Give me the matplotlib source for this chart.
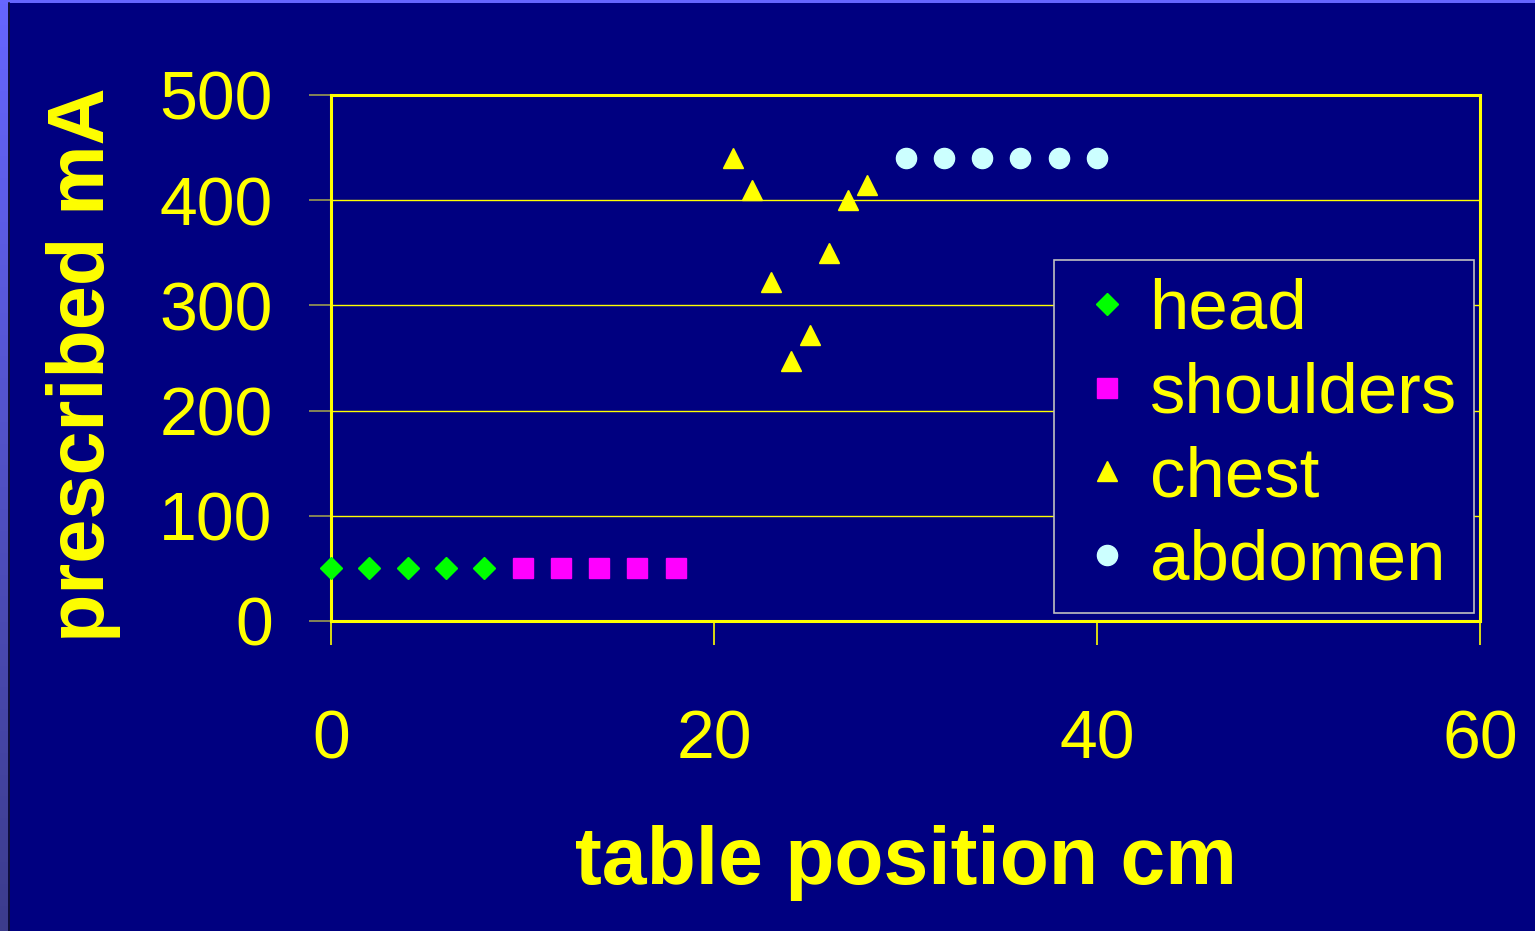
import numpy as np
import matplotlib
matplotlib.use('Agg')
import matplotlib.pyplot as plt

plt.rcParams['font.family'] = ['Liberation Sans', 'DejaVu Sans']

# data
head_x = [0, 2, 4, 6, 8]
head_y = [50, 50, 50, 50, 50]
shoulders_x = [10, 12, 14, 16, 18]
shoulders_y = [50, 50, 50, 50, 50]
chest_x = [21, 22, 23, 24, 25, 26, 27, 28]
chest_y = [440, 410, 322, 247, 272, 350, 400, 414]
abdomen_x = [30, 32, 34, 36, 38, 40]
abdomen_y = [440, 440, 440, 440, 440, 440]

navy = '#000080'
yel = '#ffff00'

fig = plt.figure(figsize=(15.35, 9.31), dpi=100)
fig.patch.set_facecolor(navy)

# slide edge strips
strip = fig.add_axes([0, 0, 8 / 1535, 1])
grad = np.linspace(0, 1, 256).reshape(-1, 1)
strip.imshow(grad, aspect='auto', cmap=matplotlib.colors.LinearSegmentedColormap.from_list(
    'e', ['#6666ff', '#3c3c8c']), extent=[0, 1, 0, 1])
strip.axis('off')
top = fig.add_axes([0, 1 - 3 / 931, 1, 3 / 931])
top.axis('off')
top.add_patch(plt.Rectangle((0, 0), 1, 1, color='#6666ff', transform=top.transAxes))
fig.add_artist(plt.Line2D([8.5 / 1535, 8.5 / 1535], [0, 1 - 3 / 931], color='#101030', lw=1.2))

ax = fig.add_axes([331 / 1535, (931 - 621) / 931, (1480 - 331) / 1535, (621 - 95) / 931])
ax.set_facecolor(navy)

ax.plot(head_x, head_y, 'D', color='#00ff00', ms=11, mec='#00ff00', label='head',
        clip_on=False, zorder=5)
ax.plot(shoulders_x, shoulders_y, 's', color='#ff00ff', ms=15, mec='#ff00ff', label='shoulders')
ax.plot(chest_x, chest_y, '^', color=yel, ms=15, mec=yel, label='chest')
ax.plot(abdomen_x, abdomen_y, 'o', color='#ccffff', ms=14.5, mec='#ccffff', label='abdomen')

ax.set_xlim(0, 60)
ax.set_ylim(0, 500)
ax.set_xticks([0, 20, 40, 60])
ax.set_yticks([0, 100, 200, 300, 400, 500])
ax.yaxis.grid(True, color=yel, lw=1)
ax.set_axisbelow(True)
for s in ax.spines.values():
    s.set_color(yel)
    s.set_linewidth(2.2)

ax.tick_params(axis='y', direction='out', length=16, width=1.2, color='#9a9a50',
               labelsize=49, labelcolor=yel, pad=26)
ax.tick_params(axis='x', direction='out', length=17, width=1.2, color=yel,
               labelsize=49, labelcolor=yel, pad=46)

ax.set_xlabel('table position cm', fontsize=58, fontweight='bold', color=yel, labelpad=38)
ax.set_ylabel('prescribed mA', fontsize=57, fontweight='bold', color=yel)
ax.yaxis.set_label_coords(-0.183, 0.487)

leg = ax.legend(loc='upper left', bbox_to_anchor=((1054 - 331) / 1149, (621 - 260) / 526),
                fontsize=51, frameon=True, fancybox=False, borderaxespad=0,
                handletextpad=0.1, handlelength=1.0, labelspacing=0.25, borderpad=0.25)
leg.get_frame().set_facecolor(navy)
leg.get_frame().set_edgecolor('#c0c0c0')
leg.get_frame().set_linewidth(1.2)
leg.get_frame().set_alpha(1)
leg.set_zorder(10)
for t in leg.get_texts():
    t.set_color(yel)

fig.savefig('out.png', dpi=100, facecolor=navy)
